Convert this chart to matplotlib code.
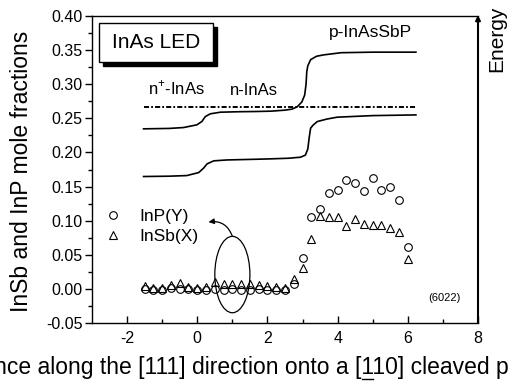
import matplotlib
matplotlib.use("Agg")
import matplotlib.pyplot as plt
from matplotlib.patches import Ellipse, Rectangle
from matplotlib.lines import Line2D

plt.rcParams["font.family"] = ["Liberation Sans", "DejaVu Sans"]
plt.rcParams["mathtext.fontset"] = "custom"
plt.rcParams["mathtext.rm"] = "Liberation Sans"
plt.rcParams["axes.unicode_minus"] = False

# posiciones a lo largo de [111]
posiciones = [-1.5, -1.25, -1.0, -0.75, -0.5, -0.25, 0.0, 0.25, 0.5, 0.75,
              1.0, 1.25, 1.5, 1.75, 2.0, 2.25, 2.5, 2.75, 3.0, 3.25,
              3.5, 3.75, 4.0, 4.25, 4.5, 4.75, 5.0, 5.25, 5.5, 5.75, 6.0]

inp_y = [0.000, -0.001, -0.001, 0.002, 0.000, 0.000, -0.001, -0.001, 0.000, -0.001,
         0.000, -0.001, -0.001, 0.000, -0.001, -0.001, -0.001, 0.007, 0.046, 0.106,
         0.117, 0.141, 0.145, 0.159, 0.155, 0.144, 0.162, 0.145, 0.149, 0.130, 0.061]

insb_x = [0.004, 0.001, 0.001, 0.005, 0.009, 0.003, 0.002, 0.003, 0.010, 0.007,
          0.007, 0.007, 0.007, 0.006, 0.004, 0.003, 0.002, 0.014, 0.031, 0.073,
          0.107, 0.106, 0.106, 0.092, 0.102, 0.095, 0.094, 0.094, 0.089, 0.083, 0.044]

# esquema de bandas
banda_sup_x = [-1.53, -0.8, -0.39, -0.01, 0.13, 0.23, 0.37, 0.66, 1.2, 1.66, 2.1, 2.5,
               2.7, 2.85, 2.98, 3.06, 3.1, 3.12, 3.15, 3.23, 3.4, 3.6, 4.1, 5.0, 6.23]
banda_sup_y = [0.2346, 0.2352, 0.2365, 0.2405, 0.2453, 0.2526, 0.2566, 0.259, 0.2597,
               0.260, 0.2605, 0.2620, 0.2635, 0.267, 0.274, 0.284, 0.300, 0.318, 0.327,
               0.336, 0.341, 0.343, 0.3462, 0.347, 0.347]

banda_inf_x = [-1.53, -0.8, -0.3, 0.04, 0.18, 0.28, 0.47, 0.85, 1.66, 2.09, 2.6, 2.94,
               3.08, 3.15, 3.19, 3.23, 3.3, 3.42, 3.7, 3.99, 5.0, 6.23]
banda_inf_y = [0.1647, 0.1652, 0.1661, 0.1705, 0.177, 0.1833, 0.1877, 0.189, 0.190,
               0.1906, 0.1915, 0.193, 0.196, 0.205, 0.222, 0.2356, 0.240, 0.2453, 0.249,
               0.2517, 0.254, 0.255]

fermi_x = [-1.53, 6.23]
fermi_y = [0.266, 0.266]

W, H = 510, 383
fig = plt.figure(figsize=(W / 100, H / 100), dpi=100)
ax = fig.add_axes([92 / W, 1 - 323 / H, 386 / W, 307 / H])

ax.plot(banda_sup_x, banda_sup_y, color="black", lw=1.2)
ax.plot(banda_inf_x, banda_inf_y, color="black", lw=1.2)
ax.plot(fermi_x, fermi_y, color="black", lw=1.4, linestyle=(0, (2.6, 1.1, 0.9, 1.1)))

ax.plot(posiciones, inp_y, "o", ms=5.5, mfc="none", mec="black", mew=0.8, label="InP(Y)")
ax.plot(posiciones, insb_x, "^", ms=6, mfc="none", mec="black", mew=0.8, label="InSb(X)")

ax.legend(loc="center left", bbox_to_anchor=(0.033, 0.315), frameon=False,
          fontsize=12.5, handlelength=1.0, handletextpad=1.0, labelspacing=0.3,
          borderpad=0, borderaxespad=0)

ax.set_xlim(-3, 8)
ax.set_ylim(-0.05, 0.40)
ax.set_xticks([-2, 0, 2, 4, 6, 8])
ax.set_xticks([-1, 1, 3, 5, 7], minor=True)
ax.set_yticks([-0.05, 0.00, 0.05, 0.10, 0.15, 0.20, 0.25, 0.30, 0.35, 0.40])
ax.set_yticks([-0.025, 0.025, 0.075, 0.125, 0.175, 0.225, 0.275, 0.325, 0.375], minor=True)
ax.set_yticklabels(["-0.05", "0.00", "0.05", "0.10", "0.15", "0.20", "0.25", "0.30", "0.35", "0.40"])
ax.tick_params(axis="x", which="both", direction="in", labelsize=11.5, pad=6)
ax.tick_params(axis="x", which="major", length=5, width=1)
ax.tick_params(axis="x", which="minor", length=3, width=1)
ax.tick_params(axis="y", which="both", direction="out", labelsize=11.5, pad=2)
ax.tick_params(axis="y", which="major", length=5, width=1)
ax.tick_params(axis="y", which="minor", length=3, width=1)
for s in ax.spines.values():
    s.set_linewidth(1.0)
ax.spines["right"].set_visible(False)

# flecha de energia en el borde derecho
ax.annotate("", xy=(1.0, 1.003), xytext=(1.0, 0.0), xycoords="axes fraction",
            arrowprops=dict(arrowstyle="-|>", lw=1.5, color="black", mutation_scale=7,
                            shrinkA=0, shrinkB=0))

# recuadro InAs LED con sombra
ax.add_patch(Rectangle((-2.68, 0.326), 3.23, 0.058, facecolor="black", edgecolor="black",
                       zorder=3))
ax.add_patch(Rectangle((-2.79, 0.332), 3.23, 0.058, facecolor="white", edgecolor="black",
                       lw=1.0, zorder=4))
ax.text(-1.175, 0.361, "InAs LED", fontsize=15, ha="center", va="center", zorder=5)

ax.text(-1.4, 0.2845, r"n$^{+}$-InAs", fontsize=12, va="baseline")
ax.text(0.94, 0.2845, "n-InAs", fontsize=12, va="baseline")
ax.text(3.75, 0.369, "p-InAsSbP", fontsize=12.5, va="baseline")
ax.text(6.59, -0.013, "(6022)", fontsize=8, va="center")

ax.add_patch(Ellipse((1.0, 0.021), 1.0, 0.112, fill=False, lw=0.9, edgecolor="black"))
ax.annotate("", xy=(0.32, 0.098), xytext=(1.0, 0.077),
            arrowprops=dict(arrowstyle="-|>", lw=0.9, color="black", mutation_scale=8,
                            shrinkA=0, shrinkB=0, connectionstyle="arc3,rad=0.4"))

fig.text(22 / W, 1 - 171 / H, "InSb and InP mole fractions", rotation=90,
         fontsize=16.5, ha="center", va="center")
fig.text(496.5 / W, 1 - 38.5 / H, "Energy", rotation=90, fontsize=15,
         ha="center", va="center")

# la etiqueta queda recortada por los bordes, igual que en la figura original
etiqueta = "Distance along the [111] direction onto a [110] cleaved plane"
xl = fig.text(247 / W, 1 - 374 / H, etiqueta, fontsize=16.5, ha="center", va="baseline")

# subrayado del 1 central en [110]
fig.canvas.draw()
r = fig.canvas.get_renderer()
bb = xl.get_window_extent(r)
tmp = fig.text(0, 0, etiqueta[:etiqueta.index("[110]") + 1], fontsize=16.5)
w1 = tmp.get_window_extent(r).width
tmp.set_text(etiqueta[:etiqueta.index("[110]") + 2])
w2 = tmp.get_window_extent(r).width
tmp.remove()
fig.add_artist(Line2D([(bb.x0 + w1 + 1) / W, (bb.x0 + w2 - 1) / W],
                      [1 - 378.5 / H, 1 - 378.5 / H], color="black", lw=1.0))

fig.savefig("out.png", dpi=100)
